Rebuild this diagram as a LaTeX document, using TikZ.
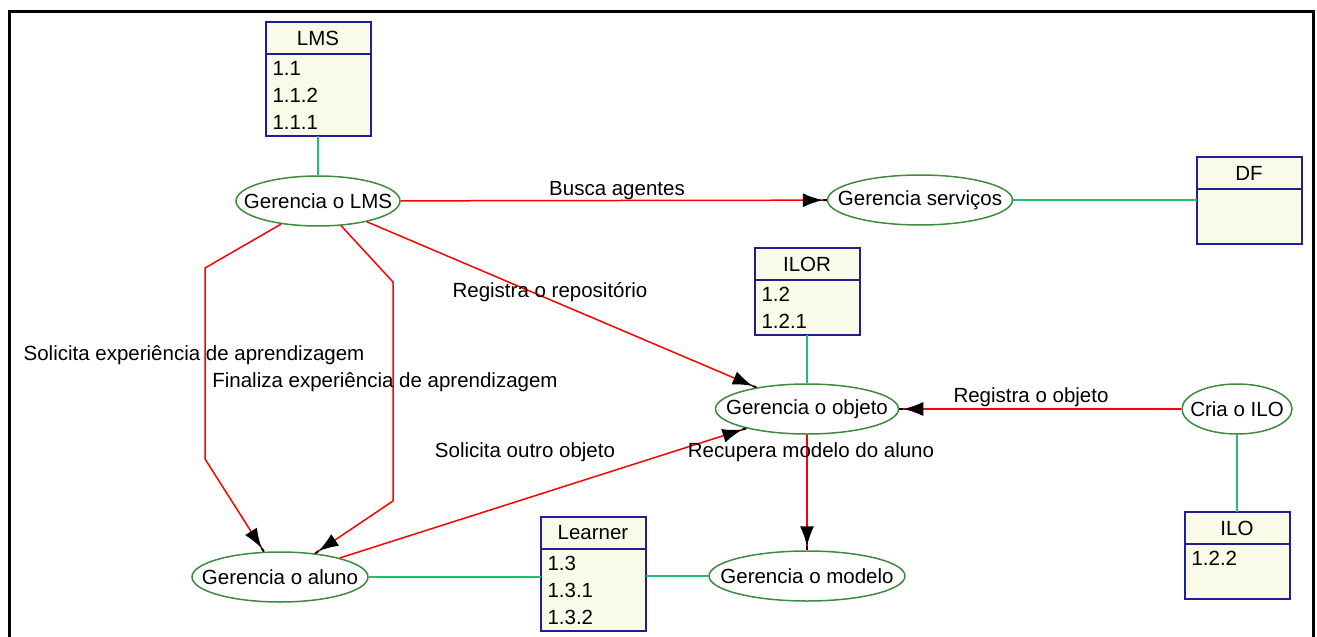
\documentclass[tikz,border=0pt]{standalone}
\usepackage{fontspec}
\setmainfont{Liberation Sans}
\usetikzlibrary{shapes.geometric,positioning,arrows.meta}

\definecolor{boxblue}{RGB}{30,30,150}
\definecolor{boxfill}{RGB}{250,250,232}
\definecolor{procgreen}{RGB}{60,140,60}
\definecolor{linkgreen}{RGB}{34,190,110}

\tikzset{
  proc/.style={ellipse, draw=procgreen, line width=1.5pt, fill=white, minimum height=50pt, inner sep=0pt},
  hdr/.style={rectangle, draw=boxblue, fill=boxfill, line width=2pt, minimum width=105pt, minimum height=32pt, inner sep=0pt, outer sep=0pt},
  bdy/.style={hdr, align=left, text width=91pt, inner xsep=7pt, inner ysep=0pt, font=\fontsize{20.5}{27}\selectfont},
  link/.style={draw=linkgreen, line width=1.5pt},
  flow/.style={draw=red, line width=1.5pt, -{Latex[color=black,length=20pt,width=14pt]Rectangle[color=black,length=4pt,width=2pt]}},
  lbl/.style={anchor=base, inner sep=0pt}
}

\begin{document}
\begin{tikzpicture}[x=1pt, y=-1pt, font=\fontsize{20.5}{24}\selectfont]
    \clip (0,0) rectangle (1317,637);
    \draw[line width=3pt] (9,11) rectangle (1313,660);

    % draw processes
    \foreach \n/\x/\y/\w/\t in {gLMS/318/201/164/Gerencia o LMS, gServ/920/200/185/Gerencia serviços,
        gObj/807/409/183/Gerencia o objeto, gAluno/280/577/176/Gerencia o aluno,
        gModelo/807/576/196/Gerencia o modelo, gCria/1237/409/110/Cria o ILO}
        \node[proc, minimum width=\w pt] (\n) at (\x,\y) {\makebox[0pt]{\t}};

    % draw stores
    \foreach \n/\x/\y/\h/\t/\items in {lms/318/38/82/LMS/{1.1\\1.1.2\\1.1.1}, df/1249/173/55/DF/{},
        ilor/807/264/55/ILOR/{1.2\\1.2.1}, learner/593/533/82/Learner/{1.3\\1.3.1\\1.3.2},
        ilo/1237/528/55/ILO/{1.2.2\\\mbox{}}}
    {
        \node[hdr] (\n-h) at (\x,\y) {\t};
        \node[bdy, minimum height=\h pt, below=0pt of \n-h] (\n) {\items};
    }

    % draw links
    \draw[link] (lms) -- (gLMS);
    \draw[link] (gServ) -- (gServ -| df.west);
    \draw[link] (ilor) -- (gObj);
    \draw[link] (gCria) -- (ilo-h);
    \draw[link] (gAluno) -- (gAluno -| learner.west);
    \draw[link] (gModelo -| learner.east) -- (gModelo);

    % draw flows
    \draw[flow] (gLMS) -- (gServ);
    \draw[flow] (gLMS) -- (gObj);
    \draw[flow] (gLMS.212) -- (205,268) -- (205,459) -- (gAluno);
    \draw[flow] (gLMS.-47) -- (393,282) -- (393,501) -- (gAluno);
    \draw[flow] (gAluno) -- (gObj);
    \draw[flow] (gCria) -- (gObj);
    \draw[flow] (gObj) -- (gModelo);

    % labels
    \node[lbl] (tBusca) at (617,195) {Busca agentes};
    \node[lbl] (tRepo) at (550,297) {Registra o repositório};
    \node[lbl] (tSolExp) at (194,360) {Solicita experiência de aprendizagem};
    \node[lbl] (tFinExp) at (385,387) {Finaliza experiência de aprendizagem};
    \node[lbl] (tOutro) at (525,457) {Solicita outro objeto};
    \node[lbl] (tModelo) at (811,457) {Recupera modelo do aluno};
    \node[lbl] (tRegObj) at (1031,402) {Registra o objeto};
\end{tikzpicture}
\end{document}
